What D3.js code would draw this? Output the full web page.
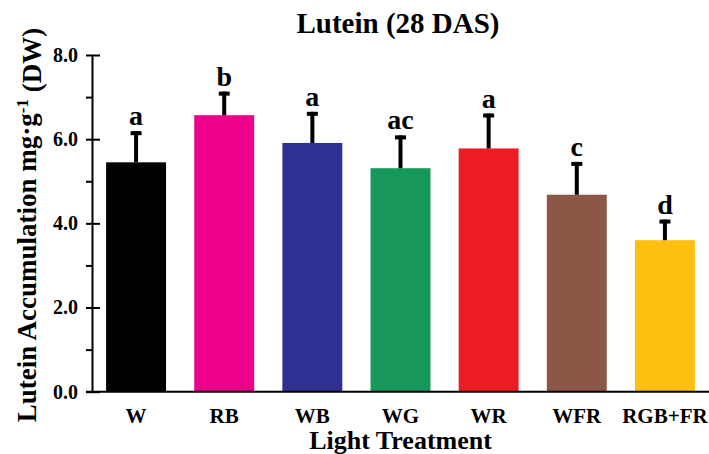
<!DOCTYPE html>
<html>
<head>
<meta charset="utf-8">
<script src="https://cdn.jsdelivr.net/npm/d3@7"></script>
<style>
  body { margin: 0; background: #fff; }
  text { font-family: "Times New Roman", "Liberation Serif", serif; font-weight: bold; fill: #000; }
  .axis path, .axis line { stroke: #000; stroke-width: 2; }
</style>
</head>
<body>
<div id="chart"></div>
<script>
// data
var treatments = ["W", "RB", "WB", "WG", "WR", "WFR", "RGB+FR"];
var means = [5.45, 6.57, 5.91, 5.31, 5.78, 4.68, 3.60];
var errors = [0.74, 0.56, 0.74, 0.78, 0.83, 0.78, 0.49];
var letters = ["a", "b", "a", "ac", "a", "c", "d"];
var colors = ["#000000", "#ec008c", "#2e3192", "#17985a", "#ed1c24", "#8c5747", "#fdc010"];
var majorTicks = [0, 2, 4, 6, 8];
var minorTicks = [1, 3, 5, 7];

var width = 709, height = 454;

var svg = d3.select("#chart")
    .append("svg")
        .attr("width", width)
        .attr("height", height);

var x = d3.scaleBand()
    .domain(treatments)
    .range([92, 709])
    .paddingInner(0.32)
    .paddingOuter(0.16);

var y = d3.scaleLinear()
    .domain([0, 8])
    .range([391.7, 55]);

// bars
svg.selectAll(".bar")
    .data(treatments)
    .enter()
    .append("rect")
    .attr("class", "bar")
    .attr("x", function(d) { return x(d); })
    .attr("y", function(d, i) { return y(means[i]); })
    .attr("width", x.bandwidth())
    .attr("height", function(d, i) { return y(0) - y(means[i]); })
    .style("fill", function(d, i) { return colors[i]; });

// error bars (upper half only)
svg.selectAll(".errStem")
    .data(treatments)
    .enter()
    .append("line")
    .attr("x1", function(d) { return x(d) + x.bandwidth() / 2; })
    .attr("x2", function(d) { return x(d) + x.bandwidth() / 2; })
    .attr("y1", function(d, i) { return y(means[i]); })
    .attr("y2", function(d, i) { return y(means[i] + errors[i]); })
    .style("stroke", "#000")
    .style("stroke-width", 4);

svg.selectAll(".errCap")
    .data(treatments)
    .enter()
    .append("line")
    .attr("x1", function(d) { return x(d) + x.bandwidth() / 2 - 5.5; })
    .attr("x2", function(d) { return x(d) + x.bandwidth() / 2 + 5.5; })
    .attr("y1", function(d, i) { return y(means[i] + errors[i]) + 2; })
    .attr("y2", function(d, i) { return y(means[i] + errors[i]) + 2; })
    .style("stroke", "#000")
    .style("stroke-width", 4);

// significance letters
svg.selectAll(".sig")
    .data(treatments)
    .enter()
    .append("text")
    .attr("class", "sig")
    .attr("x", function(d) { return x(d) + x.bandwidth() / 2; })
    .attr("y", function(d, i) { return y(means[i] + errors[i]) - 6; })
    .attr("text-anchor", "middle")
    .style("font-size", "28px")
    .text(function(d, i) { return letters[i]; });

// y axis: major ticks outside with labels, inner part of major ticks, minor ticks
var yAxis = svg.append("g")
    .attr("class", "axis")
    .attr("transform", "translate(92,0)")
    .call(d3.axisLeft(y).tickValues(majorTicks).tickSize(6).tickSizeOuter(0).tickPadding(8)
        .tickFormat(d3.format(".1f")));
yAxis.selectAll("text").style("font-size", "20px");

svg.append("g")
    .attr("class", "axis")
    .attr("transform", "translate(92,0)")
    .call(d3.axisRight(y).tickValues(majorTicks).tickSize(8).tickSizeOuter(0).tickFormat(""))
    .select(".domain").remove();

svg.append("g")
    .attr("class", "axis")
    .attr("transform", "translate(92,0)")
    .call(d3.axisLeft(y).tickValues(minorTicks).tickSize(6).tickSizeOuter(0).tickFormat(""))
    .select(".domain").remove();

// x axis
var xAxis = svg.append("g")
    .attr("class", "axis")
    .attr("transform", "translate(0," + y(0) + ")")
    .call(d3.axisBottom(x).tickSize(0).tickSizeOuter(0).tickPadding(16));
xAxis.selectAll("text").style("font-size", "21px");
xAxis.select(".domain").attr("d", "M86,0H709");

// title and axis labels
svg.append("text")
    .attr("x", 398)
    .attr("y", 33)
    .attr("text-anchor", "middle")
    .style("font-size", "29px")
    .text("Lutein (28 DAS)");

svg.append("text")
    .attr("x", 400.5)
    .attr("y", 449)
    .attr("text-anchor", "middle")
    .style("font-size", "26px")
    .text("Light Treatment");

var yTitle = svg.append("text")
    .attr("transform", "translate(36,225) rotate(-90)")
    .attr("text-anchor", "middle")
    .style("font-size", "27px");
yTitle.append("tspan").text("Lutein Accumulation mg\u00b7g");
yTitle.append("tspan").attr("dy", "-0.45em").style("font-size", "17px").text("-1");
yTitle.append("tspan").attr("dy", "0.45em").text(" (DW)");
</script>
</body>
</html>
